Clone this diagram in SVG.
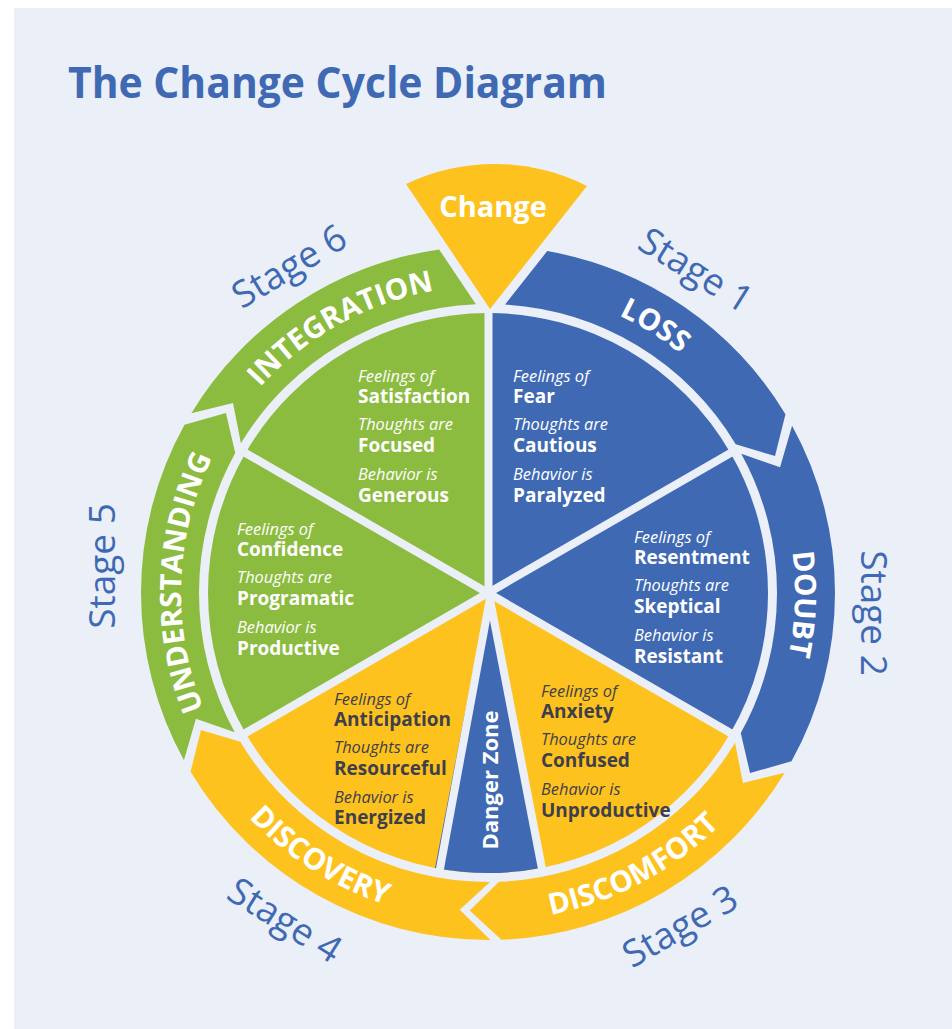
<svg xmlns="http://www.w3.org/2000/svg" xmlns:xlink="http://www.w3.org/1999/xlink" width="952" height="1029" viewBox="0 0 952 1029">
<style>
.bg{fill:#ebeff8}
.blue{fill:#3f6ab3}
.green{fill:#8cbc3f}
.yellow{fill:#fec21f}
.gap{stroke:#ebeff8;stroke-width:8;fill:none;stroke-linecap:butt}
.title{font-family:'Open Sans','Liberation Sans',sans-serif;font-weight:700;font-size:43px;fill:#3f6ab3}
.stage{font-family:'Open Sans','Liberation Sans',sans-serif;font-weight:400;font-size:37px;fill:#3f6ab3}
.ring{font-family:'Open Sans','Liberation Sans',sans-serif;font-weight:700;font-size:29.5px;fill:#ffffff}
.it{font-family:'Open Sans','Liberation Sans',sans-serif;font-style:italic;font-weight:400;font-size:16.4px}
.bd{font-family:'Open Sans','Liberation Sans',sans-serif;font-weight:700;font-size:19px}
.w{fill:#ffffff}
.d{fill:#3e3f4b}
</style>
<defs>
<path id="arcOut" d="M 181 593 A 307 307 0 0 1 795 593"/>
<path id="arcIn" d="M 160 593 A 328 328 0 0 0 816 593"/>
</defs>
<rect x="0" y="0" width="952" height="1029" fill="#ffffff"/>
<rect class="bg" x="14" y="8" width="938" height="1021"/>
<text class="title" x="68" y="98" textLength="539" lengthAdjust="spacingAndGlyphs">The Change Cycle Diagram</text>

<g id="change">
<path class="yellow" d="M 490 309 L 406 184 A 205 205 0 0 1 587 186 Z"/>
<text x="493" y="217" text-anchor="middle" style="font-family:'Open Sans','Liberation Sans',sans-serif;font-weight:700;font-size:29px;fill:#fff">Change</text>
</g>

<g id="ring-loss">
<path class="blue" d="M 547.2 251.1 A 347 347 0 0 1 785.44 414.28 L 775.02 456.1 L 735.72 444.15 A 289 289 0 0 0 505.05 304.5 Z"/>
<g transform="rotate(32 488 593)"><text class="ring"><textPath xlink:href="#arcOut" startOffset="50%" text-anchor="middle">LOSS</textPath></text></g>
</g>
<g id="ring-doubt">
<path class="blue" d="M 792.08 425.83 A 347 347 0 0 1 791.49 761.23 L 750.07 773.12 L 740.77 733.11 A 289 289 0 0 0 741.25 453.77 L 780.07 467.22 Z"/>
<g transform="rotate(92 488 593)"><text class="ring"><textPath xlink:href="#arcOut" startOffset="50%" text-anchor="middle">DOUBT</textPath></text></g>
</g>
<g id="ring-discomfort">
<path class="yellow" d="M 784.65 772.76 A 347 347 0 0 1 501.32 939.74 L 469.7 910.47 L 499.09 881.79 A 289 289 0 0 0 735.07 742.71 L 742.97 783.05 Z"/>
<g transform="rotate(-28 488 593)"><text class="ring"><textPath xlink:href="#arcIn" startOffset="50%" text-anchor="middle">DISCOMFORT</textPath></text></g>
</g>
<g id="ring-discovery">
<path class="yellow" d="M 490.42 940 A 347 347 0 0 1 190.56 771.72 L 200.98 729.9 L 240.28 741.85 A 289 289 0 0 0 490.02 882 L 459.73 909.74 Z"/>
<g transform="rotate(32.5 488 593)"><text class="ring"><textPath xlink:href="#arcIn" startOffset="50%" text-anchor="middle">DISCOVERY</textPath></text></g>
</g>
<g id="ring-understanding">
<path class="green" d="M 183.92 760.17 A 347 347 0 0 1 184.51 424.77 L 225.93 412.88 L 235.23 452.89 A 289 289 0 0 0 234.75 732.23 L 195.93 718.78 Z"/>
<g transform="rotate(272 488 593)"><text class="ring"><textPath xlink:href="#arcOut" startOffset="50%" text-anchor="middle">UNDERSTANDING</textPath></text></g>
</g>
<g id="ring-integration">
<path class="green" d="M 191.35 413.24 A 347 347 0 0 1 439.1 249.4 L 475.9 304.2 A 289 289 0 0 0 240.93 443.29 L 233.03 402.95 Z"/>
<g transform="rotate(331 488 593)"><text class="ring"><textPath xlink:href="#arcOut" startOffset="50%" text-anchor="middle">INTEGRATION</textPath></text></g>
</g>

<g id="slice-fear">
<path class="blue" d="M 488 593 L 488 313 A 280 280 0 0 1 730.49 453 Z"/>
</g>
<g id="slice-resentment">
<path class="blue" d="M 488 593 L 730.49 453 A 280 280 0 0 1 730.49 733 Z"/>
</g>
<g id="slice-anxiety">
<path class="yellow" d="M 488 593 L 730.49 733 A 280 280 0 0 1 488 873 Z"/>
</g>
<g id="slice-anticipation">
<path class="yellow" d="M 488 593 L 488 873 A 280 280 0 0 1 245.51 733 Z"/>
</g>
<g id="slice-confidence">
<path class="green" d="M 488 593 L 245.51 733 A 280 280 0 0 1 245.51 453 Z"/>
</g>
<g id="slice-satisfaction">
<path class="green" d="M 488 593 L 245.51 453 A 280 280 0 0 1 488 313 Z"/>
</g>
<g id="danger-zone">
<path class="blue" d="M 488 593 L 541 867.9 A 280 280 0 0 1 435 867.9 Z"/>
</g>

<g id="connectors">
<line class="gap" x1="488.5" y1="593" x2="488.5" y2="311"/>
<line class="gap" x1="488" y1="593" x2="734" y2="451"/>
<line class="gap" x1="488" y1="593" x2="734" y2="735"/>
<line class="gap" x1="488" y1="593" x2="242" y2="735"/>
<line class="gap" x1="488" y1="593" x2="242" y2="451"/>
<line class="gap" x1="488.7" y1="593" x2="543" y2="874"/>
<line class="gap" x1="491" y1="593" x2="439" y2="874"/>
</g>

<g id="danger-label">
<text transform="translate(498 780) rotate(-90)" text-anchor="middle" style="font-family:'Open Sans','Liberation Sans',sans-serif;font-weight:700;font-size:22px;fill:#fff">Danger Zone</text>
</g>

<g id="text-satisfaction" class="w">
<text class="it" x="358" y="382">Feelings of</text>
<text class="bd" x="358" y="403">Satisfaction</text>
<text class="it" x="358" y="430">Thoughts are</text>
<text class="bd" x="358" y="452">Focused</text>
<text class="it" x="358" y="480">Behavior is</text>
<text class="bd" x="358" y="502">Generous</text>
</g>
<g id="text-fear" class="w">
<text class="it" x="513" y="382">Feelings of</text>
<text class="bd" x="513" y="403">Fear</text>
<text class="it" x="513" y="430">Thoughts are</text>
<text class="bd" x="513" y="452">Cautious</text>
<text class="it" x="513" y="480">Behavior is</text>
<text class="bd" x="513" y="502">Paralyzed</text>
</g>
<g id="text-resentment" class="w">
<text class="it" x="634" y="543">Feelings of</text>
<text class="bd" x="634" y="564">Resentment</text>
<text class="it" x="634" y="591">Thoughts are</text>
<text class="bd" x="634" y="613">Skeptical</text>
<text class="it" x="634" y="641">Behavior is</text>
<text class="bd" x="634" y="663">Resistant</text>
</g>
<g id="text-confidence" class="w">
<text class="it" x="237" y="535">Feelings of</text>
<text class="bd" x="237" y="556">Confidence</text>
<text class="it" x="237" y="583">Thoughts are</text>
<text class="bd" x="237" y="605">Programatic</text>
<text class="it" x="237" y="633">Behavior is</text>
<text class="bd" x="237" y="655">Productive</text>
</g>
<g id="text-anxiety" class="d">
<text class="it" x="541" y="697">Feelings of</text>
<text class="bd" x="541" y="718">Anxiety</text>
<text class="it" x="541" y="745">Thoughts are</text>
<text class="bd" x="541" y="767">Confused</text>
<text class="it" x="541" y="795">Behavior is</text>
<text class="bd" x="541" y="817">Unproductive</text>
</g>
<g id="text-anticipation" class="d">
<text class="it" x="334" y="705">Feelings of</text>
<text class="bd" x="334" y="726">Anticipation</text>
<text class="it" x="334" y="753">Thoughts are</text>
<text class="bd" x="334" y="775">Resourceful</text>
<text class="it" x="334" y="803">Behavior is</text>
<text class="bd" x="334" y="824">Energized</text>
</g>

<g id="stages">
<text class="stage" transform="translate(696 270) rotate(32)" y="13" text-anchor="middle">Stage 1</text>
<text class="stage" transform="translate(874 613) rotate(90)" y="13" text-anchor="middle">Stage 2</text>
<text class="stage" transform="translate(680 926) rotate(-30)" y="13" text-anchor="middle">Stage 3</text>
<text class="stage" transform="translate(285 920) rotate(32)" y="13" text-anchor="middle">Stage 4</text>
<text class="stage" transform="translate(102 566) rotate(-90)" y="13" text-anchor="middle">Stage 5</text>
<text class="stage" transform="translate(289 266) rotate(-31)" y="13" text-anchor="middle">Stage 6</text>
</g>
</svg>
